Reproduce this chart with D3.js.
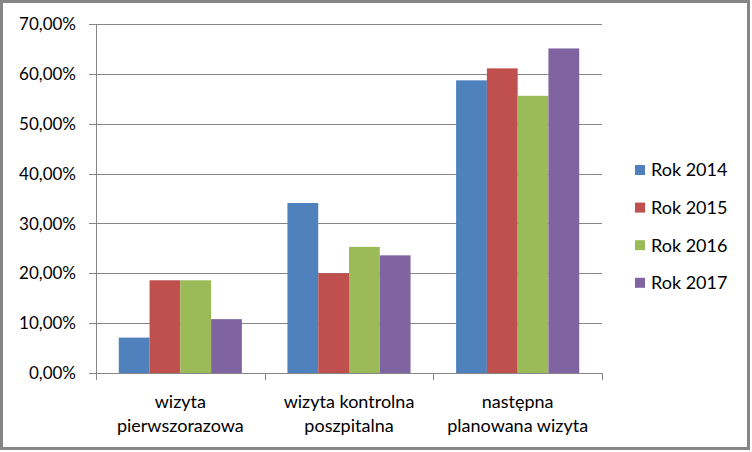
<!DOCTYPE html>
<html>
<head>
<meta charset="utf-8">
<script src="https://cdn.jsdelivr.net/npm/d3@7"></script>
<style>
  body { margin: 0; background: #fff; }
  svg { display: block; font-family: "Lato", "Open Sans", sans-serif; }
</style>
</head>
<body>
<script>
const categories = [["wizyta", "pierwszorazowa"], ["wizyta kontrolna", "poszpitalna"], ["następna", "planowana wizyta"]];
const seriesNames = ["Rok 2014", "Rok 2015", "Rok 2016", "Rok 2017"];
const colors = ["#4F81BD", "#C0504D", "#9BBB59", "#8064A2"];
const rok2014 = [7.1, 34.1, 58.7];
const rok2015 = [18.6, 20.0, 61.1];
const rok2016 = [18.6, 25.3, 55.6];
const rok2017 = [10.8, 23.6, 65.1];
const yTicks = [0, 10, 20, 30, 40, 50, 60, 70];

const values = [rok2014, rok2015, rok2016, rok2017];
const width = 752, height = 452;
const plot = {left: 96, right: 602, top: 24, bottom: 373};

const svg = d3.select("body").append("svg")
    .attr("width", width)
    .attr("height", height);

svg.append("rect")
    .attr("x", 1.5).attr("y", 1.5)
    .attr("width", 747).attr("height", 447)
    .attr("fill", "#fff")
    .attr("stroke", "#868686")
    .attr("stroke-width", 3);

const x0 = d3.scaleBand()
    .domain(d3.range(categories.length))
    .range([plot.left, plot.right])
    .paddingInner(0)
    .paddingOuter(0);

const x1 = d3.scaleBand()
    .domain(d3.range(seriesNames.length))
    .range([0, x0.bandwidth()])
    .paddingOuter(0.74)
    .paddingInner(0);

const y = d3.scaleLinear()
    .domain([0, 70])
    .range([plot.bottom, plot.top]);

// gridlines
svg.append("g")
    .selectAll("line")
    .data(yTicks)
    .join("line")
    .attr("x1", plot.left - 7)
    .attr("x2", plot.right)
    .attr("y1", d => Math.round(y(d)) + 0.5)
    .attr("y2", d => Math.round(y(d)) + 0.5)
    .attr("stroke", "#868686")
    .attr("stroke-width", 1);

// y labels
svg.append("g")
    .selectAll("text")
    .data(yTicks)
    .join("text")
    .attr("x", 76)
    .attr("y", d => y(d))
    .attr("dy", "0.36em")
    .attr("text-anchor", "end")
    .attr("font-size", 17)
    .attr("fill", "#000")
    .text(d => d3.format(".2f")(d).replace(".", ",") + "%");

// bars
const groups = svg.append("g")
    .selectAll("g")
    .data(categories.map((c, i) => i))
    .join("g")
    .attr("transform", i => `translate(${x0(i)},0)`);

groups.selectAll("rect")
    .data(i => values.map((s, j) => ({series: j, value: s[i]})))
    .join("rect")
    .attr("x", d => x1(d.series))
    .attr("width", x1.bandwidth())
    .attr("y", d => y(d.value))
    .attr("height", d => y(0) - y(d.value))
    .attr("fill", d => colors[d.series]);

// axes lines
svg.append("line")
    .attr("x1", plot.left + 0.5).attr("x2", plot.left + 0.5)
    .attr("y1", plot.top).attr("y2", plot.bottom + 7)
    .attr("stroke", "#868686");

svg.append("g")
    .selectAll("line")
    .data(d3.range(categories.length + 1))
    .join("line")
    .attr("x1", i => Math.round(plot.left + i * x0.step()) + 0.5)
    .attr("x2", i => Math.round(plot.left + i * x0.step()) + 0.5)
    .attr("y1", plot.bottom)
    .attr("y2", plot.bottom + 7)
    .attr("stroke", "#868686");

// category labels
const catLabels = svg.append("g")
    .selectAll("text")
    .data(categories)
    .join("text")
    .attr("text-anchor", "middle")
    .attr("font-size", 18)
    .attr("fill", "#000")
    .attr("transform", (d, i) => `translate(${x0(i) + x0.bandwidth() / 2},0)`);

catLabels.selectAll("tspan")
    .data(d => d)
    .join("tspan")
    .attr("x", 0)
    .attr("y", (d, i) => 402 + i * 24)
    .attr("dy", "0.32em")
    .text(d => d);

// legend
const legend = svg.append("g")
    .selectAll("g")
    .data(seriesNames)
    .join("g")
    .attr("transform", (d, i) => `translate(635,${170 + i * 37.6})`);

legend.append("rect")
    .attr("x", 0).attr("y", -5)
    .attr("width", 10).attr("height", 10)
    .attr("fill", (d, i) => colors[i]);

legend.append("text")
    .attr("x", 16)
    .attr("dy", "0.36em")
    .attr("font-size", 18)
    .attr("fill", "#000")
    .text(d => d);
</script>
</body>
</html>
